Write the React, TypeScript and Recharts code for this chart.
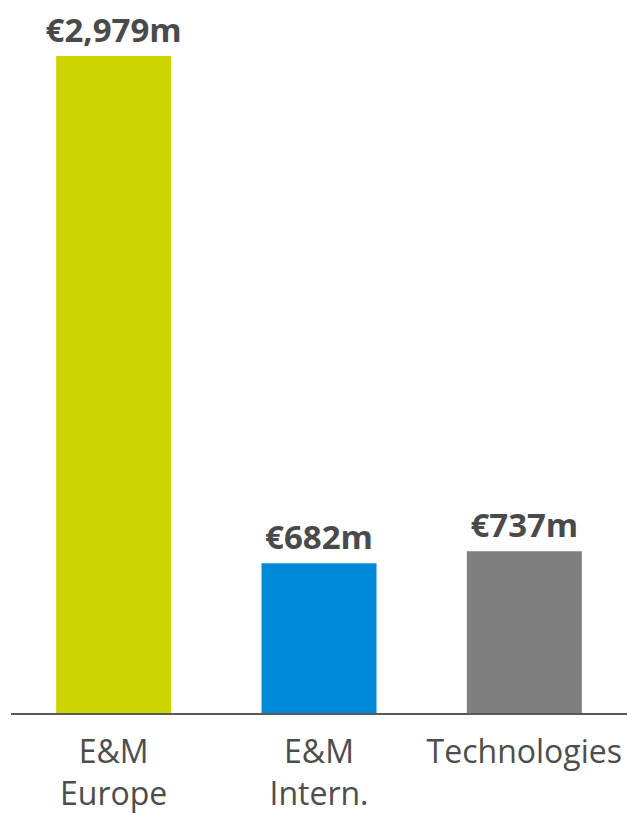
import React from 'react';
import { BarChart, Bar, XAxis, YAxis, Cell, LabelList } from 'recharts';

const categories = ['E&M Europe', 'E&M Intern.', 'Technologies'];
const tickLines = [['E&M', 'Europe'], ['E&M', 'Intern.'], ['Technologies']];
const values = [2979, 682, 737];
const colors = ['#cdd300', '#0089d9', '#7f7f7f'];

const data = categories.map((c, i) => ({ name: c, value: values[i], idx: i }));

const FONT = '"Open Sans", "Noto Sans", sans-serif';

const Tick = (props: any) => {
  const { x, y, payload } = props;
  const idx = categories.indexOf(payload.value);
  const lines = tickLines[idx] || [payload.value];
  return (
    <text x={x} y={y} textAnchor="middle" fill="#4d4d4d" fontFamily={FONT} fontSize={32}>
      {lines.map((l, i) => (
        <tspan key={i} x={x} dy={i === 0 ? 41 : 42}>{l}</tspan>
      ))}
    </text>
  );
};

const ValueLabel = (props: any) => {
  const { x, y, width, value } = props;
  return (
    <text
      x={x + width / 2}
      y={y - 14}
      textAnchor="middle"
      fill="#4a4a4a"
      fontFamily={FONT}
      fontWeight={700}
      fontSize={33}
    >
      {'€' + Number(value).toLocaleString('en-US') + 'm'}
    </text>
  );
};

export default function App() {
  return (
    <div style={{ position: 'absolute', left: 0, top: 0, background: '#fff' }}>
      <BarChart
        width={627}
        height={814}
        data={data}
        margin={{ top: 56, right: 0, bottom: 0, left: 11 }}
        barCategoryGap="22%"
      >
        <XAxis
          dataKey="name"
          height={100}
          axisLine={{ stroke: '#595959', strokeWidth: 2 }}
          tickLine={false}
          tick={<Tick />}
          interval={0}
        />
        <YAxis hide domain={[0, 2979]} />
        <Bar dataKey="value" isAnimationActive={false}>
          {data.map((d, i) => (
            <Cell key={i} fill={colors[i]} />
          ))}
          <LabelList dataKey="value" content={<ValueLabel />} />
        </Bar>
      </BarChart>
    </div>
  );
}
